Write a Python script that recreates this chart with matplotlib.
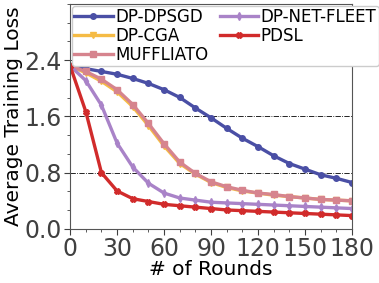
import numpy as np
import matplotlib
matplotlib.use("Agg")
import matplotlib.pyplot as plt
from matplotlib.ticker import MultipleLocator, AutoMinorLocator

# rounds, one marker every 10 rounds
rounds = np.arange(0, 181, 10)

dp_dpsgd = [2.32, 2.28, 2.24, 2.20, 2.14, 2.07, 1.98, 1.87, 1.72, 1.58,
            1.43, 1.29, 1.17, 1.04, 0.93, 0.85, 0.77, 0.72, 0.66]
dp_cga = [2.32, 2.22, 2.10, 1.95, 1.74, 1.47, 1.18, 0.93, 0.78, 0.66,
          0.59, 0.54, 0.51, 0.48, 0.46, 0.44, 0.42, 0.41, 0.40]
muffliato = [2.32, 2.24, 2.13, 1.98, 1.77, 1.50, 1.21, 0.95, 0.79, 0.67,
             0.60, 0.55, 0.51, 0.49, 0.46, 0.44, 0.42, 0.41, 0.40]
dp_net_fleet = [2.32, 2.11, 1.76, 1.22, 0.88, 0.65, 0.51, 0.44, 0.41, 0.38,
                0.37, 0.36, 0.35, 0.34, 0.33, 0.32, 0.31, 0.30, 0.29]
pdsl = [2.32, 1.67, 0.80, 0.54, 0.43, 0.39, 0.35, 0.33, 0.31, 0.29,
        0.27, 0.26, 0.25, 0.24, 0.23, 0.22, 0.21, 0.20, 0.19]

fig = plt.figure(figsize=(3.79, 2.83), dpi=100)
ax = fig.add_axes([0.185, 0.191, 0.744, 0.795])

ax.plot(rounds, dp_dpsgd, color="#4a4fa5", marker="o", ms=4, lw=2.4, label="DP-DPSGD")
ax.plot(rounds, dp_cga, color="#f5bb45", marker="v", ms=4, lw=2.4, label="DP-CGA")
ax.plot(rounds, muffliato, color="#d6848e", marker="s", ms=4, lw=2.4, label="MUFFLIATO")
ax.plot(rounds, dp_net_fleet, color="#a983c8", marker="d", ms=4, lw=2.4, label="DP-NET-FLEET")
ax.plot(rounds, pdsl, color="#d12b2b", marker="X", ms=4, lw=2.4, label="PDSL")

ax.set_xlim(0, 180)
ax.set_ylim(0, 3.2)
ax.set_xticks(np.arange(0, 181, 30))
ax.set_yticks([0.0, 0.8, 1.6, 2.4])
ax.xaxis.set_minor_locator(MultipleLocator(10))
ax.yaxis.set_minor_locator(AutoMinorLocator(3))
ax.tick_params(axis="both", which="major", labelsize=17, colors="#404040", length=4, pad=2)
ax.tick_params(axis="both", which="minor", length=2, colors="#404040")
ax.grid(axis="y", which="major", color="black", linestyle="-.", linewidth=0.6)

for sp in ax.spines.values():
    sp.set_color("#555555")

ax.set_xlabel("# of Rounds", fontsize=14.5, labelpad=-1)
ax.set_ylabel("Average Training Loss", fontsize=14.5, labelpad=1)

ax.legend(ncol=2, fontsize=12, loc="upper left", bbox_to_anchor=(0.0, 1.0),
          handlelength=2.3, handletextpad=0.15, columnspacing=0.7,
          labelspacing=0.05, borderpad=0.15, borderaxespad=0.1, framealpha=1.0)

fig.savefig("out.png", dpi=100)
